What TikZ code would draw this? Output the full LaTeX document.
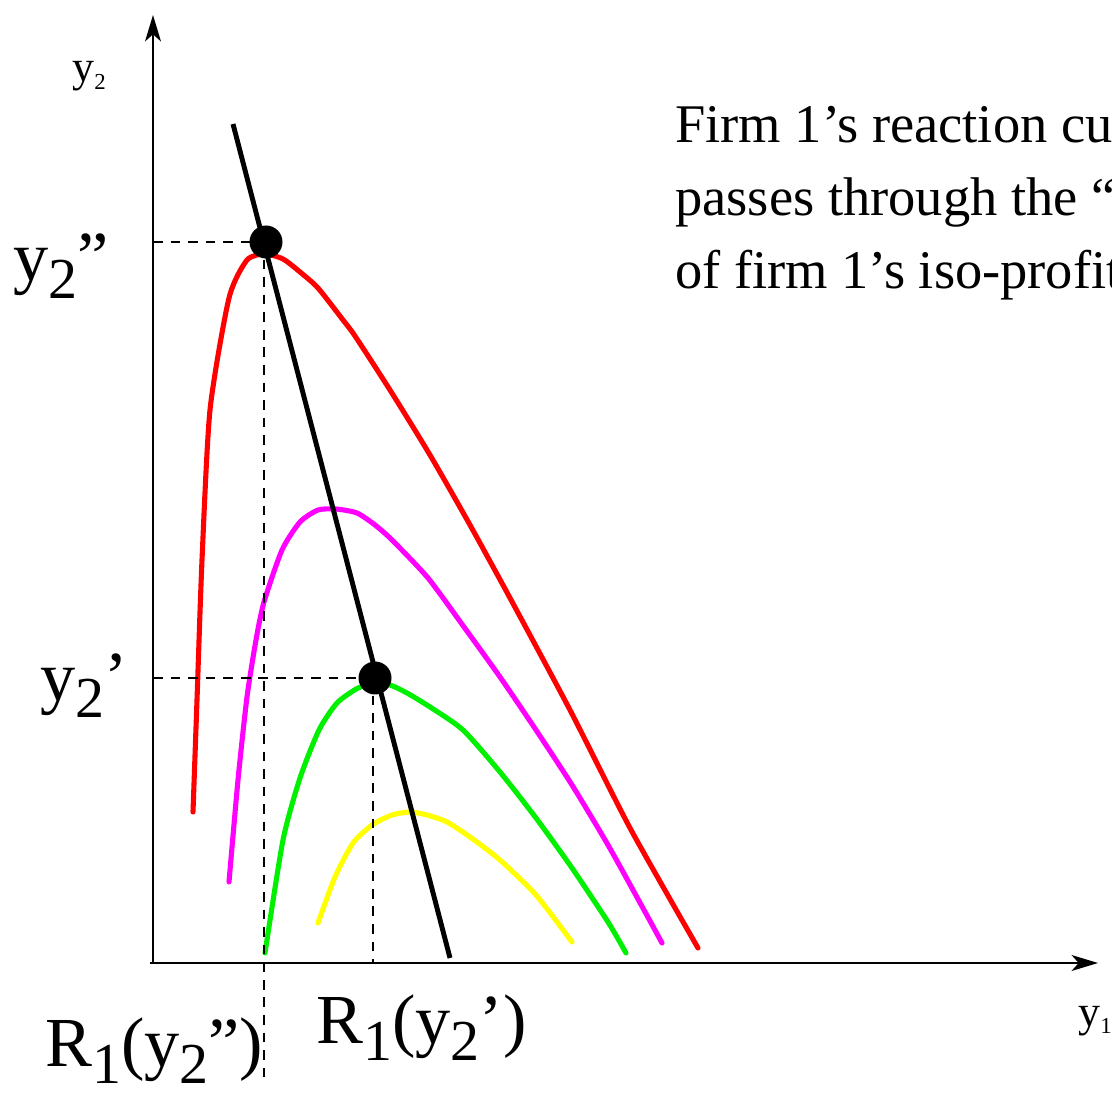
\documentclass[tikz,border=0pt]{standalone}
\usepackage{fontspec}
\usepackage{graphicx}
\setmainfont{Liberation Serif}
\usetikzlibrary{arrows.meta,calc}
\definecolor{IsoRed}{RGB}{255,0,0}
\definecolor{IsoMagenta}{RGB}{255,0,255}
\definecolor{IsoGreen}{RGB}{0,240,0}
\definecolor{IsoYellow}{RGB}{255,255,0}
\newcommand\bigidx[1]{\raisebox{-0.25em}{\fontsize{33}{38}\selectfont #1}}
\newcommand\axidx[1]{\raisebox{-0.16em}{\fontsize{13}{15}\selectfont #1}}
\tikzset{
  axis line/.style={line width=1.5pt, -{Stealth[length=15pt, width=9pt, inset=4pt]}},
  iso curve/.style={line width=2.9pt, line cap=round, line join=round},
  reac line/.style={line width=2.8pt, black},
  guide line/.style={line width=1.2pt, dash pattern=on 5.5pt off 4.5pt},
  eq dot/.style={circle, fill=black, inner sep=0pt, minimum size=0.66cm},
  big label/.style={font=\fontsize{40}{46}\selectfont, inner sep=0pt, anchor=base west},
  axis label/.style={font=\fontsize{25}{30}\selectfont, inner sep=0pt, anchor=base west},
  note text/.style={font=\fontsize{31}{41.5}\selectfont, inner sep=0pt, align=left, anchor=north west}
}
\begin{document}
\begin{tikzpicture}[x=0.02cm, y=-0.02cm]
\useasboundingbox (0,0) rectangle (1112,1097);
% axes
\coordinate (O) at (153,963);
\coordinate (ytip) at (153,15);
\coordinate (xstart) at (150,963);
\coordinate (xtip) at (1098,963);
\draw[axis line] (O) -- (ytip);
\draw[axis line] (xstart) -- (xtip);
\node[axis label] (ylab) at (72,82) {y\axidx{2}};
\node[axis label] (xlab) at (1078,1026) {y\axidx{1}};

% iso-profit curves
\draw[iso curve, IsoRed] plot[smooth, tension=0.4] coordinates {
  (193,812) (197,700) (202,560) (210,410) (229,298) (247,260) (265,254)
  (283,259) (300,272) (318,288) (343,320) (355,336) (390,390) (430,455)
  (470,525) (510,598) (570,710) (630,828) (698,948)};
\draw[iso curve, IsoMagenta] plot[smooth, tension=0.4] coordinates {
  (229,882) (238,780) (247,697) (256,640) (264,602) (282,550) (300,522)
  (318,510) (336,509) (357,513) (375,525) (392,540) (428,578) (464,627)
  (500,677) (536,730) (572,785) (608,845) (644,910) (662,943)};
\draw[iso curve, IsoGreen] plot[smooth, tension=0.4] coordinates {
  (265,953) (283,840) (300,778) (319,730) (337,703) (358,688) (375,684)
  (390,685) (407,693) (430,707) (463,730) (500,772) (536,818) (572,868)
  (608,922) (626,953)};
\draw[iso curve, IsoYellow] plot[smooth, tension=0.4] coordinates {
  (318,923) (335,877) (353,843) (372,825) (392,815) (410,812) (427,815)
  (447,822) (470,837) (500,860) (536,895) (572,942)};

% reaction curve and tops
\coordinate (rtop) at (233,124);
\coordinate (rbot) at (450,958);
\draw[reac line] (rtop) -- (rbot);
\node[eq dot] (tophi) at (266,242) {};
\node[eq dot] (toplo) at (375,678) {};
\coordinate (hiend) at (264,1080);
\draw[guide line] (O |- tophi) -- (tophi.center);
\draw[guide line] (tophi.center -| hiend) -- (hiend);
\draw[guide line] (O |- toplo) -- (toplo.center);
\draw[guide line] (toplo.center -| 373,0) -- (373,963);

\node[big label] (yhi) at (13,281) {y\bigidx{2}”};
\node[big label] (ylo) at (40,700) {y\bigidx{2}’};
\node[big label] (rhi) at (45,1066) {R\bigidx{1}(y\bigidx{2}”)};
\node[big label] (rlo) at (316,1043) {R\bigidx{1}(y\bigidx{2}’)};

\node[note text] (note) at (675,106) {Firm 1’s reaction curve\\passes through the “tops”\\of firm 1’s iso-profit curves.};
\end{tikzpicture}
\end{document}
